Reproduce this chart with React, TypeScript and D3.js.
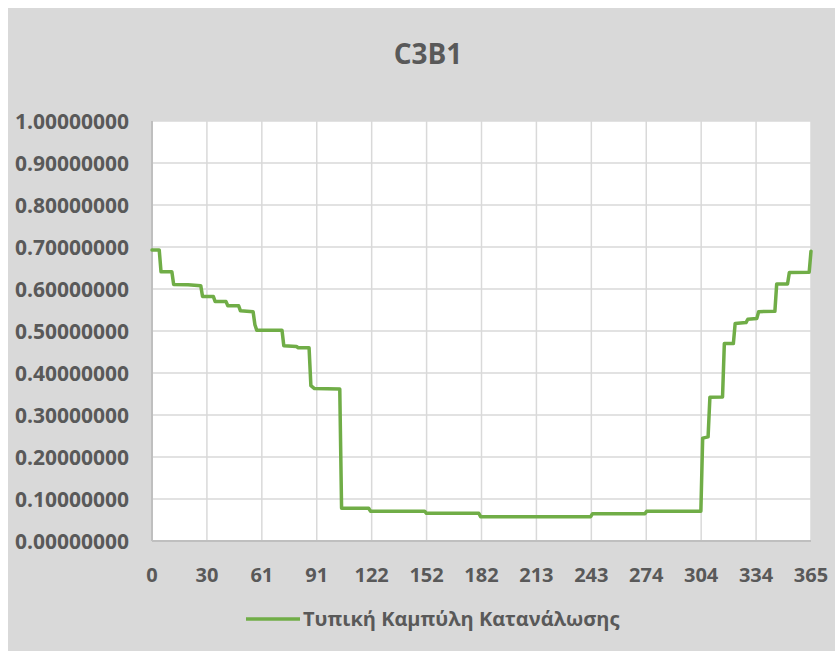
import React, { useEffect, useRef } from 'react';
import * as d3 from 'd3';

// corner points of the step curve (day, value)
const days = [
  0, 4, 5, 11, 12, 20, 27, 28, 34, 35, 41, 42, 48, 49, 56, 57, 58, 72, 73, 80, 81, 87, 88, 90, 104, 105,
  120, 121, 151, 152, 181, 182, 243, 244, 273, 274, 304, 305, 308, 309, 316, 317, 322, 323, 329, 330,
  335, 336, 345, 346, 352, 353, 364, 365,
];
const values = [
  0.693, 0.693, 0.641, 0.641, 0.611, 0.61, 0.608, 0.582, 0.582, 0.57, 0.57, 0.56, 0.56, 0.548, 0.546,
  0.515, 0.502, 0.502, 0.465, 0.463, 0.46, 0.46, 0.37, 0.363, 0.362, 0.078, 0.078, 0.071, 0.071, 0.066,
  0.066, 0.058, 0.058, 0.065, 0.065, 0.071, 0.071, 0.245, 0.248, 0.342, 0.343, 0.47, 0.47, 0.518, 0.52,
  0.528, 0.53, 0.546, 0.547, 0.612, 0.612, 0.639, 0.64, 0.69,
];
const xTickLabels = ['0', '30', '61', '91', '122', '152', '182', '213', '243', '274', '304', '334', '365'];
const yTicks = [0, 0.1, 0.2, 0.3, 0.4, 0.5, 0.6, 0.7, 0.8, 0.9, 1.0];
const title = 'C3B1';
const seriesName = 'Τυπική Καμπύλη Κατανάλωσης';

const App = () => {
  const svgRef = useRef<SVGSVGElement>(null);
  const width = 827;
  const height = 643;

  useEffect(() => {
    const margin = { top: 113, right: 24, bottom: 110, left: 144 };
    const innerWidth = width - margin.left - margin.right;
    const innerHeight = height - margin.top - margin.bottom;
    const font = '"Open Sans", "Noto Sans", sans-serif';
    const textColor = '#595959';

    d3.select(svgRef.current).selectAll('*').remove();
    const svg = d3.select(svgRef.current);

    svg.append('rect').attr('width', width).attr('height', height).attr('fill', '#d9d9d9');

    svg.append('text')
      .attr('x', 420)
      .attr('y', 56)
      .attr('text-anchor', 'middle')
      .attr('font-family', font)
      .attr('font-weight', 'bold')
      .attr('font-size', 28)
      .attr('fill', textColor)
      .text(title);

    const g = svg.append('g').attr('transform', `translate(${margin.left},${margin.top})`);

    const xScale = d3.scaleLinear().domain([0, 365]).range([0, innerWidth]);
    const yScale = d3.scaleLinear().domain([0, 1]).range([innerHeight, 0]);
    const xTicks = xTickLabels.map((_, i) => (365 * i) / 12);

    g.append('rect').attr('width', innerWidth).attr('height', innerHeight).attr('fill', '#fff');

    // Grid lines
    g.append('g')
      .selectAll('line.vgrid')
      .data(xTicks)
      .enter()
      .append('line')
      .attr('x1', d => xScale(d))
      .attr('x2', d => xScale(d))
      .attr('y1', 0)
      .attr('y2', innerHeight)
      .attr('stroke', '#d9d9d9')
      .attr('stroke-width', 1.5);

    g.append('g')
      .selectAll('line.hgrid')
      .data(yTicks)
      .enter()
      .append('line')
      .attr('x1', 0)
      .attr('x2', innerWidth)
      .attr('y1', d => yScale(d))
      .attr('y2', d => yScale(d))
      .attr('stroke', '#d9d9d9')
      .attr('stroke-width', 1.5);

    // Axis lines
    g.append('line')
      .attr('x1', 0).attr('x2', innerWidth)
      .attr('y1', innerHeight).attr('y2', innerHeight)
      .attr('stroke', '#bfbfbf').attr('stroke-width', 2);
    g.append('line')
      .attr('x1', 0).attr('x2', 0)
      .attr('y1', 0).attr('y2', innerHeight)
      .attr('stroke', '#bfbfbf').attr('stroke-width', 2);

    // Tick labels
    g.append('g')
      .selectAll('text')
      .data(yTicks)
      .enter()
      .append('text')
      .attr('x', -23)
      .attr('y', d => yScale(d) + 7.5)
      .attr('text-anchor', 'end')
      .attr('font-family', font)
      .attr('font-weight', 'bold')
      .attr('font-size', 21)
      .attr('fill', textColor)
      .text(d => d.toFixed(8));

    g.append('g')
      .selectAll('text')
      .data(xTickLabels)
      .enter()
      .append('text')
      .attr('x', (_, i) => xScale(xTicks[i]))
      .attr('y', innerHeight + 41)
      .attr('text-anchor', 'middle')
      .attr('font-family', font)
      .attr('font-weight', 'bold')
      .attr('font-size', 20)
      .attr('fill', textColor)
      .text(d => d);

    // Series
    const line = d3.line<number>()
      .x(d => xScale(d))
      .y((_, i) => yScale(values[i]));

    g.append('path')
      .datum(days)
      .attr('fill', 'none')
      .attr('stroke', '#70ad47')
      .attr('stroke-width', 3.5)
      .attr('stroke-linejoin', 'round')
      .attr('stroke-linecap', 'round')
      .attr('d', line);

    // Legend
    const legend = svg.append('g').attr('transform', 'translate(238,611)');
    legend.append('line')
      .attr('x1', 0).attr('x2', 54)
      .attr('y1', 0).attr('y2', 0)
      .attr('stroke', '#70ad47')
      .attr('stroke-width', 3.5);
    legend.append('text')
      .attr('x', 57)
      .attr('y', 7)
      .attr('font-family', font)
      .attr('font-weight', 'bold')
      .attr('font-size', 20)
      .attr('fill', textColor)
      .text(seriesName);
  }, []);

  return (
    <svg
      ref={svgRef}
      width={width}
      height={height}
      style={{ position: 'absolute', left: 8, top: 8, display: 'block' }}
    ></svg>
  );
};

export default App;
